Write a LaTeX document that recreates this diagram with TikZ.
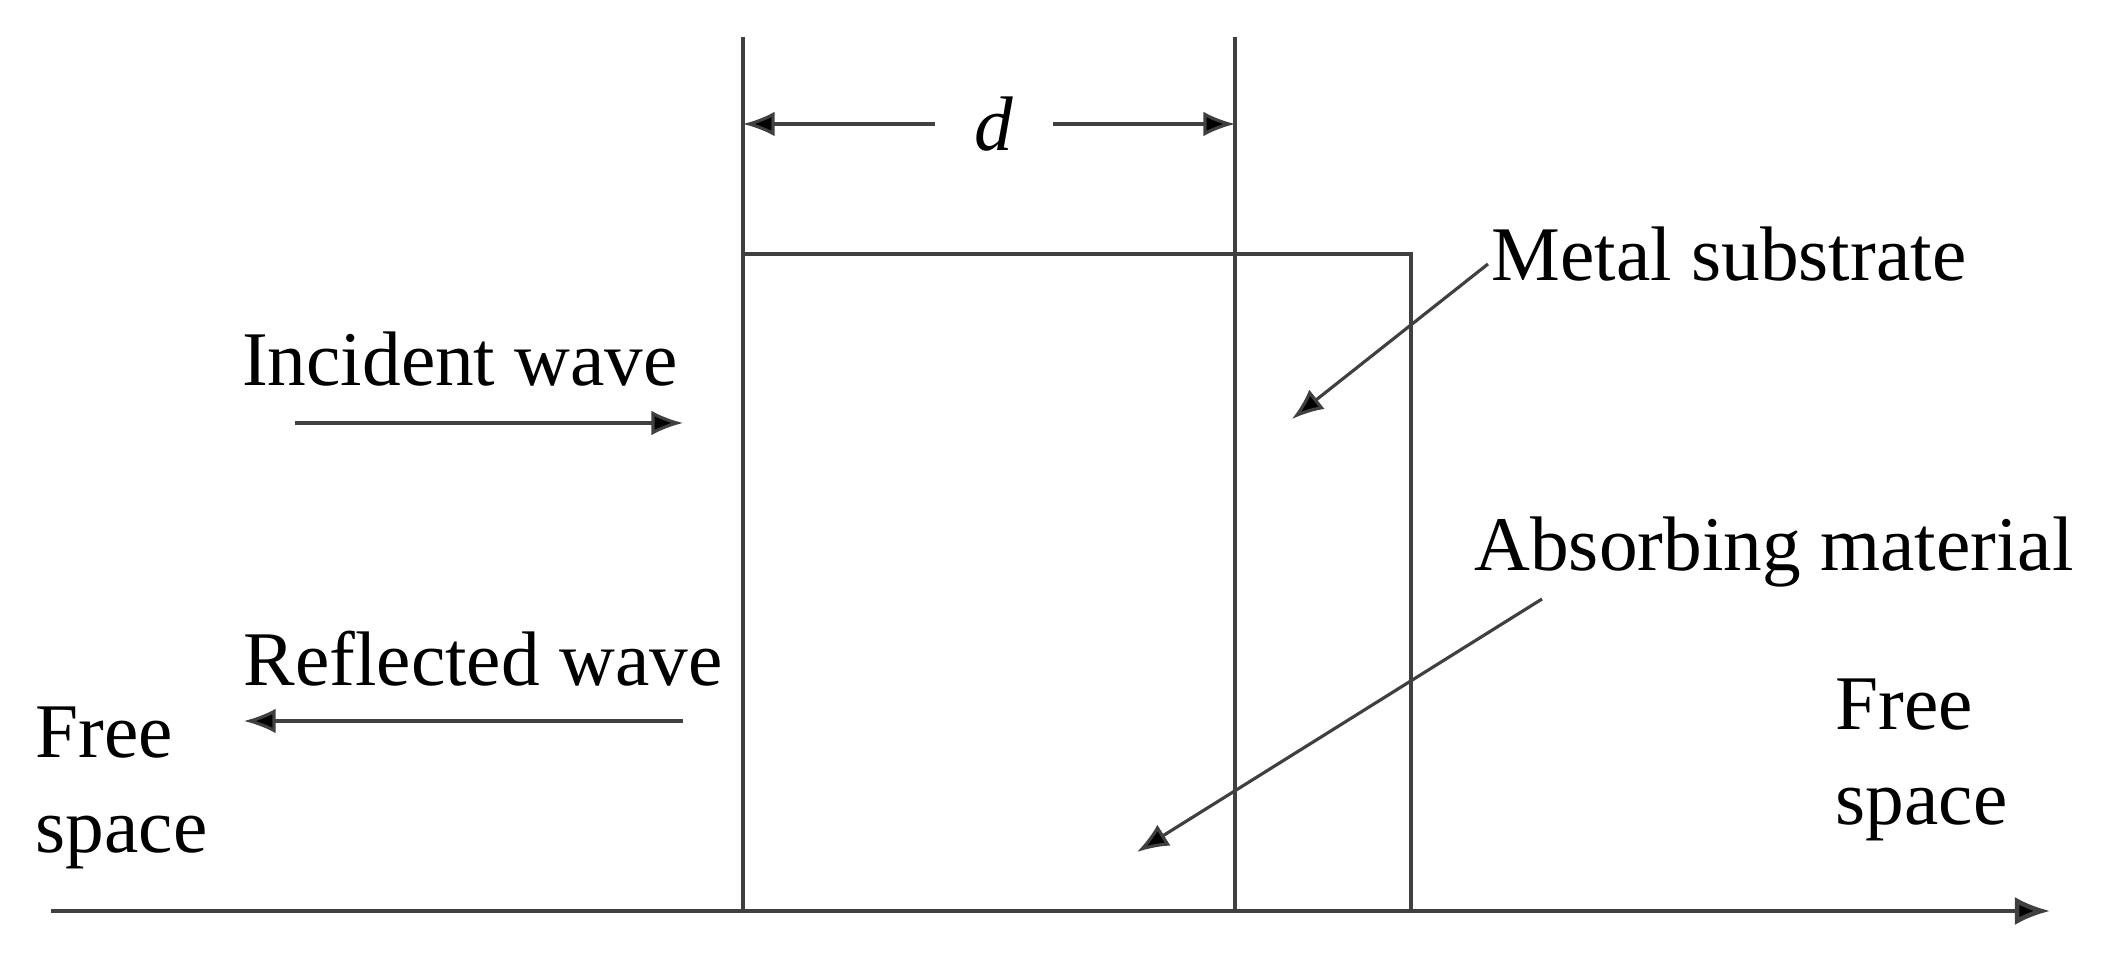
\documentclass[tikz,border=0pt]{standalone}
\usepackage{fontspec}
\setmainfont{Liberation Serif}
\usetikzlibrary{arrows.meta}
\begin{document}
\begin{tikzpicture}[
  every node/.style={font=\fontsize{22}{27}\selectfont, text=black},
  ln/.style={draw=black!75, line width=0.9pt},
  arr/.style={ln, -{Latex[length=9pt,width=7pt,fill=black]}},
  lbl/.style={inner sep=2pt}
]
\useasboundingbox (0,0) rectangle (21.22,9.68);
% layers and axis
\coordinate (Ltop) at (7.43,9.31);
\coordinate (Lbot) at (7.43,0.57);
\coordinate (Rtop) at (12.35,9.31);
\coordinate (Rbot) at (12.35,0.57);
\coordinate (BoxTL) at (7.43,7.14);
\coordinate (BoxTR) at (14.11,7.14);
\coordinate (BoxBR) at (14.11,0.57);
\coordinate (AxL) at (0.51,0.57);
\coordinate (AxR) at (20.50,0.57);
\draw[ln] (Ltop) -- (Lbot);
\draw[ln] (Rtop) -- (Rbot);
\draw[ln] (BoxTL) -- (BoxTR) -- (BoxBR);
\draw[ln, line width=1.3pt, -{Latex[length=10pt,width=8pt,fill=black]}] (AxL) -- (AxR);
% dimension d
\coordinate (dL) at (7.43,8.44);
\coordinate (dR) at (12.35,8.44);
\node[inner xsep=11pt] (d) at (9.94,8.44) {\textit{d}};
\draw[arr] (d.west) -- (dL);
\draw[arr] (d.east) -- (dR);
% waves
\node[lbl] (inc) at (4.60,6.09) {Incident wave};
\coordinate (incA) at (2.95,5.45);
\coordinate (incB) at (6.83,5.45);
\draw[arr] (incA) -- (incB);
\node[lbl] (refl) at (4.83,3.09) {Reflected wave};
\coordinate (refA) at (6.83,2.47);
\coordinate (refB) at (2.44,2.47);
\draw[arr] (refA) -- (refB);
% free space labels
\node[lbl, align=left, anchor=west] (fsl) at (0.28,1.80) {Free\\space};
\node[lbl, align=left, anchor=west] (fsr) at (18.28,2.08) {Free\\space};
% metal substrate
\node[lbl] (metal) at (17.29,7.14) {Metal substrate};
\coordinate (metTip) at (12.92,5.49);
\draw[arr] (14.88,7.04) -- (metTip);
% absorbing material
\node[lbl] (abs) at (17.74,4.16) {Absorbing material};
\coordinate (absTip) at (11.37,1.16);
\draw[arr] (15.42,3.69) -- (absTip);
\end{tikzpicture}
\end{document}
